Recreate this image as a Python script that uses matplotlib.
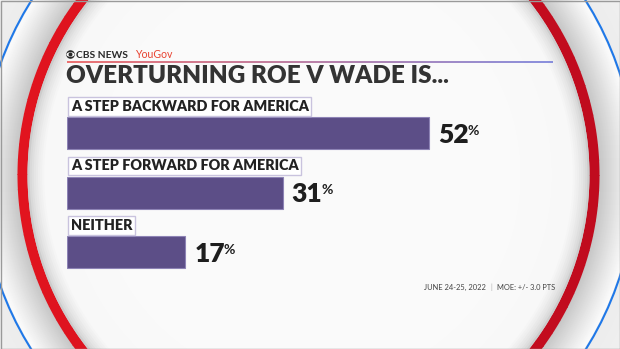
import numpy as np
import matplotlib
matplotlib.use("Agg")
import matplotlib.pyplot as plt
from matplotlib.patches import Circle, Ellipse, Wedge
from matplotlib.collections import LineCollection

# veriler
categories = ["A STEP BACKWARD FOR AMERICA", "A STEP FORWARD FOR AMERICA", "NEITHER"]
values = [52, 31, 17]
title = "OVERTURNING ROE V WADE IS..."
footer_date = "JUNE 24-25, 2022"
footer_moe = "MOE: +/- 3.0 PTS"

W, H = 620, 349
FONT = ["Lato", "Inter", "DejaVu Sans"]
BAR = "#5c4e87"
DARK = "#2b2b2b"


def gray(v):
    return (v, v, v)


fig = plt.figure(figsize=(W / 100, H / 100), dpi=100)
fig.patch.set_facecolor("white")

# arka plan: piksel koordinatli eksen
bg = fig.add_axes([0, 0, 1, 1])
bg.set_xlim(0, W)
bg.set_ylim(H, 0)
bg.axis("off")

cx, cy = 308.5, 175
# disarisi
for r in np.linspace(420, 330, 12):
    v = 0.975 - 0.05 * (420 - r) / 90
    bg.add_patch(Circle((cx, cy), r, fc=gray(v), ec="none"))
# mavi halka ile kirmizi arasi: beyazdan griye
for r in np.linspace(326, 291, 36):
    k = (326 - r) / 35
    v = 0.985 - 0.21 * k ** 1.1
    bg.add_patch(Circle((cx, cy), r, fc=gray(v), ec="none"))
bg.add_patch(Circle((cx, cy), 327.5, fc="none", ec="#1f78e8", lw=1.5))

# kirmizi halka: solda parlak, sagda koyu
c_l = np.array(matplotlib.colors.to_rgb("#e1141f"))
c_r = np.array(matplotlib.colors.to_rgb("#c00b1e"))
for a in range(0, 360, 3):
    m = (1 - np.cos(np.radians(a + 1.5))) / 2  # 0 sag, 1 sol
    bg.add_patch(Wedge((cx, cy), 291, a, a + 3.2, width=10,
                       fc=c_r * (1 - m) + c_l * m, ec="none"))

# ic kisim, kenarda golge
for r in np.linspace(281, 200, 40):
    k = (281 - r) / 81
    v = 0.80 + 0.17 * min(1, k * 5) ** 0.6 + 0.01 * k
    bg.add_patch(Circle((cx, cy), r, fc=gray(min(v, 0.985)), ec="none"))

# cerceve
bg.add_patch(plt.Rectangle((0.5, 0.5), W - 1, H - 1, fc="none", ec="#9a9a9a", lw=1))

# ust logo
bg.add_patch(Circle((70.5, 54.5), 4.3, fc=DARK, ec="none"))
bg.add_patch(Ellipse((70.5, 54.5), 8.0, 4.6, fc="white", ec="none"))
bg.add_patch(Circle((70.5, 54.5), 2.0, fc=DARK, ec="none"))
bg.text(75.5, 58.5, "CBS NEWS", fontsize=7.4, fontweight="bold", color=DARK,
        family=FONT, va="baseline")
bg.text(135, 58.5, "YouGov", fontsize=7.6, color="#e8412f", family=FONT, va="baseline")

# kirmizidan maviye gecen cizgi
xs = np.linspace(67, 553, 120)
segs = [[(xs[k], 61.5), (xs[k + 1], 61.5)] for k in range(len(xs) - 1)]
t = np.linspace(0, 1, len(segs))[:, None]
c1 = np.array(matplotlib.colors.to_rgb("#e84a4a"))
c2 = np.array(matplotlib.colors.to_rgb("#6a72d6"))
bg.add_collection(LineCollection(segs, colors=c1 * (1 - t) + c2 * t, lw=1.1))

bg.text(66, 83, title, fontsize=17.5, fontweight="heavy", color="#333333",
        family=FONT, va="baseline")

# alt bilgi
bg.text(486, 290, footer_date, fontsize=5.4, color="#444444",
        family=FONT, ha="right", va="baseline")
bg.text(491, 290, "|", fontsize=5.0, color="#aaaaaa", family=FONT, ha="center", va="baseline")
bg.text(497, 290, footer_moe, fontsize=5.4, color="#444444",
        family=FONT, ha="left", va="baseline")

# cubuk grafik
px_per = 6.96
span = 60
step = 59.5
ax = fig.add_axes([67 / W, (H - (133 + 2 * step + step / 2)) / H,
                   span * px_per / W, 3 * step / H])
ax.set_xlim(0, span)
ax.set_ylim(2.5, -0.5)
ax.axis("off")
ax.patch.set_alpha(0)

y = np.arange(len(values))
ax.barh(y, values, height=32 / step, color=BAR, edgecolor="#8d83b5", linewidth=0.8)

for i, (cat, v) in enumerate(zip(categories, values)):
    ax.text(0.55, i - 22 / step, cat, fontsize=10.4, fontweight="heavy", color="#222222",
            family=FONT, va="baseline",
            bbox=dict(boxstyle="square,pad=0.18", fc="white", ec="#c9c3de", lw=1))
    num = ax.text(v + 1.3, i + 10 / step, str(v), fontsize=19, fontweight="heavy",
                  color="#1e1e1e", family=FONT, va="baseline")
    ax.annotate("%", xy=(1, 0.93), xycoords=num, xytext=(-1, 0), textcoords="offset points",
                fontsize=10, fontweight="bold", color="#1e1e1e", family=FONT,
                va="top", ha="left")

fig.savefig("out.png", dpi=100)
